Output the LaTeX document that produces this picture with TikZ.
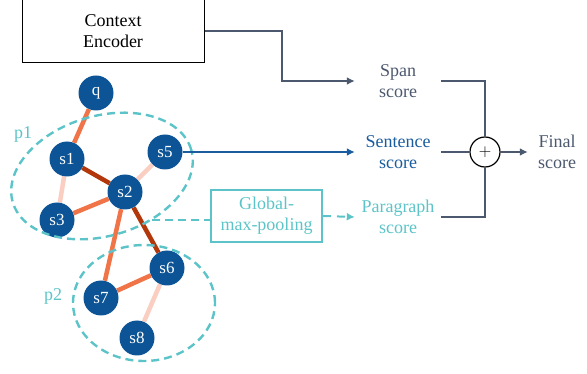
\documentclass[tikz,border=0pt]{standalone}
\usepackage{fontspec}
\setmainfont{Liberation Serif}
\usepackage{tikz}
\usetikzlibrary{positioning,shapes.geometric,backgrounds,arrows.meta}

\definecolor{slate}{RGB}{76,88,110}
\definecolor{deepblue}{RGB}{12,84,150}
\definecolor{sentblue}{RGB}{26,92,158}
\definecolor{teal}{RGB}{92,196,200}
\definecolor{hotedge}{RGB}{240,116,72}
\definecolor{strongedge}{RGB}{178,56,12}
\definecolor{weakedge}{RGB}{250,206,192}

\begin{document}
\begin{tikzpicture}[
  x=1pt, y=-1pt,
  font=\fontsize{18}{21}\selectfont,
  sent/.style={circle, fill=deepblue, text=white, minimum size=35pt, inner sep=0pt, font=\fontsize{17}{17}\selectfont},
  score/.style={align=center, minimum width=86pt, inner sep=0pt},
  group/.style={ellipse, draw=teal, line width=2.4pt, dash pattern=on 8pt off 5pt},
  hot/.style={draw=hotedge, line width=4.5pt},
  strong/.style={draw=strongedge, line width=4.5pt},
  weak/.style={draw=weakedge, line width=4.5pt},
  arr/.style={-{Latex[length=8pt,width=8pt]}, line width=2pt},
]
\useasboundingbox (0,0) rectangle (587,374);
% encoder
\node[draw, line width=1pt, minimum width=182pt, minimum height=64pt, align=center] (enc) at (113,31) {Context\\Encoder};
% sentence graph
\node[sent] (q) at (96,93) {q};
\node[sent] (s1) at (67,159) {s1};
\node[sent] (s5) at (165,152) {s5};
\node[sent] (s2) at (125,192) {s2};
\node[sent] (s3) at (57,220) {s3};
\node[sent] (s6) at (167,268) {s6};
\node[sent] (s7) at (101,298) {s7};
\node[sent] (s8) at (137,338) {s8};
\begin{scope}[on background layer]
\draw[hot] (q) -- (s1);
\draw[strong] (s1) -- (s2);
\draw[weak] (s1) -- (s3);
\draw[weak] (s2) -- (s5);
\draw[hot] (s2) -- (s3);
\draw[hot] (s2) -- (s7);
\draw[strong] (s2) -- (s6);
\draw[hot] (s6) -- (s7);
\draw[weak] (s6) -- (s8);
\end{scope}
% paragraphs
\node[group, minimum width=186pt, minimum height=120pt, rotate=16.5] (p1) at (102,176) {};
\node[group, minimum width=142pt, minimum height=116pt] (p2) at (144,303) {};
\node[text=teal] (p1lab) at (23,134) {p1};
\node[text=teal] (p2lab) at (53,296) {p2};
% pooling and scores
\node[draw=teal, line width=2pt, text=teal, align=center, minimum width=111pt, minimum height=52pt, inner sep=0pt] (pool) at (266.5,216) {Global-\\max-pooling};
\node[score, text=slate] (span) at (398,81) {Span\\score};
\node[score, text=sentblue] (sscore) at (398,152) {Sentence\\score};
\node[score, text=teal] (pscore) at (398,217) {Paragraph\\score};
\node[circle, draw, line width=1.2pt, minimum size=30pt, inner sep=0pt] (plus) at (485,152) {$+$};
\node[score, minimum width=58pt, text=slate] (final) at (557,152) {Final\\score};
% connectors
\draw[arr, slate] (enc.east) -- ++(77,0) |- (span.west);
\draw[arr, sentblue] (s5.east) -- (sscore.west);
\draw[teal, line width=2pt, dash pattern=on 8pt off 5pt] (p1.-58) -- (p1.-58 -| pool.west);
\draw[arr, teal, dash pattern=on 8pt off 6pt] (pool.east) -- (pscore.west);
\draw[slate, line width=2pt] (span.east) -| (plus.north);
\draw[slate, line width=2pt] (sscore.east) -- (plus.west);
\draw[slate, line width=2pt] (pscore.east) -| (plus.south);
\draw[arr, slate] (plus.east) -- (final.west);
\end{tikzpicture}
\end{document}
